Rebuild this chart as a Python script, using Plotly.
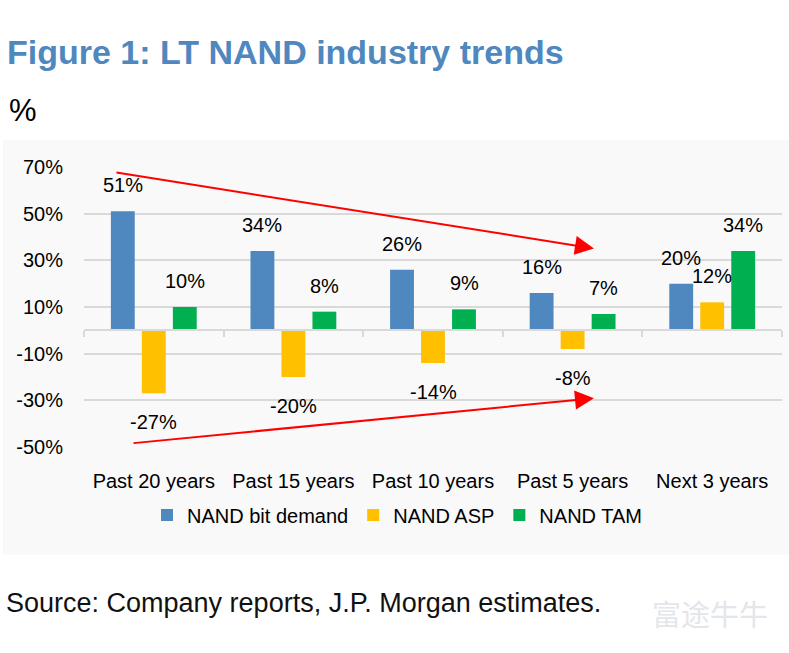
import plotly.graph_objects as go

categories = ["Past 20 years", "Past 15 years", "Past 10 years", "Past 5 years", "Next 3 years"]
bit_demand = [51, 34, 26, 16, 20]
asp = [-27, -20, -14, -8, 12]
tam = [10, 8, 9, 7, 34]
series_names = ["NAND bit demand", "NAND ASP", "NAND TAM"]
series_colors = ["#4F87BF", "#FFC000", "#00B050"]
y_tickvals = [-50, -30, -10, 10, 30, 50, 70]
y_ticktext = ["-50%", "-30%", "-10%", "10%", "30%", "50%", "70%"]
y_range = [-50, 70]

# trend arrows: (start_x_index, start_y, end_x_index, end_y)
trend_top = (-0.278, 67.7, 3.153, 35.1)
trend_bottom = (-0.156, -48.4, 3.153, -29.1)

FONT = "Arial, Liberation Sans, sans-serif"
GRID = "#D9D9D9"

fig = go.Figure()
all_series = [bit_demand, asp, tam]
for name, vals, col in zip(series_names, all_series, series_colors):
    fig.add_trace(go.Bar(x=categories, y=vals, name=name, marker_color=col,
                         marker_line_width=0, hoverinfo="skip"))

# invisible helper trace for the zero-line axis with boundary ticks
fig.add_trace(go.Scatter(x=categories, y=[0] * len(categories), xaxis="x2",
                         mode="markers", marker=dict(opacity=0), showlegend=False,
                         hoverinfo="skip"))

annotations = []
shifts = [-31, 0, 31]
for vals, xs in zip(all_series, shifts):
    for c, v in zip(categories, vals):
        annotations.append(dict(x=c, y=v, xref="x", yref="y", text=f"{v}%",
                                showarrow=False, xshift=xs,
                                yshift=26 if v >= 0 else -29,
                                yanchor="middle", xanchor="center",
                                font=dict(family=FONT, size=20, color="#000")))

for (sx, sy, ex, ey) in [trend_top, trend_bottom]:
    annotations.append(dict(x=ex, y=ey, ax=sx, ay=sy, xref="x", yref="y",
                            axref="x", ayref="y", text="", showarrow=True,
                            arrowhead=2, arrowsize=1.9, arrowwidth=2,
                            arrowcolor="#FF0000"))

annotations += [
    dict(x=5, y=52, text="<b>Figure 1: LT NAND industry trends</b>",
         showarrow=False, xanchor="left", yanchor="middle",
         font=dict(family=FONT, size=34, color="#4F87BF")),
    dict(x=7, y=110, text="%", showarrow=False, xanchor="left", yanchor="middle",
         font=dict(family=FONT, size=31, color="#000")),
    dict(x=4, y=603, text="Source: Company reports, J.P. Morgan estimates.", showarrow=False,
         xanchor="left", yanchor="middle", font=dict(family=FONT, size=27, color="#111")),
    dict(x=650, y=613, text="富途牛牛", showarrow=False, xanchor="left", yanchor="middle",
         font=dict(family="Noto Sans CJK SC", size=29, color="#E3E6EA")),
]

# convert pixel-placed page annotations to paper coords
L, R, T, B = 84, 7, 167, 206
W, H = 789, 653
pw, ph = W - L - R, H - T - B
for a in annotations[-4:]:
    a["xref"] = "paper"
    a["yref"] = "paper"
    a["x"] = (a["x"] - L) / pw
    a["y"] = (H - B - a["y"]) / ph

zero_pos = (0 - y_range[0]) / (y_range[1] - y_range[0])

fig.update_layout(
    width=W, height=H,
    margin=dict(l=L, r=R, t=T, b=B, autoexpand=False),
    paper_bgcolor="white",
    plot_bgcolor="#F9F9F9",
    barmode="group", bargap=0.334, bargroupgap=0.23,
    font=dict(family=FONT, size=20, color="#000"),
    annotations=annotations,
    shapes=[dict(type="rect", xref="paper", yref="paper",
                 x0=(3 - L) / pw, x1=(789 - L) / pw,
                 y0=(H - B - 555) / ph, y1=(H - B - 140) / ph,
                 fillcolor="#F9F9F9", line_width=0, layer="below")],
    xaxis=dict(categoryorder="array", categoryarray=categories, range=[-0.5, 4.5],
               showgrid=False, showline=False, zeroline=False, ticks="",
               tickangle=0, ticklabelstandoff=20, tickfont=dict(size=20, family=FONT)),
    xaxis2=dict(overlaying="x", anchor="free", position=zero_pos, matches="x",
                categoryorder="array", categoryarray=categories,
                showgrid=False, showline=True, linecolor=GRID, linewidth=2,
                ticks="outside", tickson="boundaries", ticklen=6, tickwidth=2,
                tickcolor=GRID, showticklabels=False, zeroline=False),
    yaxis=dict(range=y_range, tickvals=y_tickvals, ticktext=y_ticktext,
               showgrid=True, gridcolor=GRID, gridwidth=2, zeroline=False,
               showline=False, ticks="", ticklabelstandoff=20,
               tickfont=dict(size=20, family=FONT)),
    legend=dict(orientation="h", x=(397 - L) / pw, xanchor="center",
                y=(H - B - 515) / ph, yanchor="middle",
                font=dict(size=20, family=FONT), bgcolor="rgba(0,0,0,0)",
                traceorder="normal"),
    showlegend=True,
)

fig.write_html("out.html")
